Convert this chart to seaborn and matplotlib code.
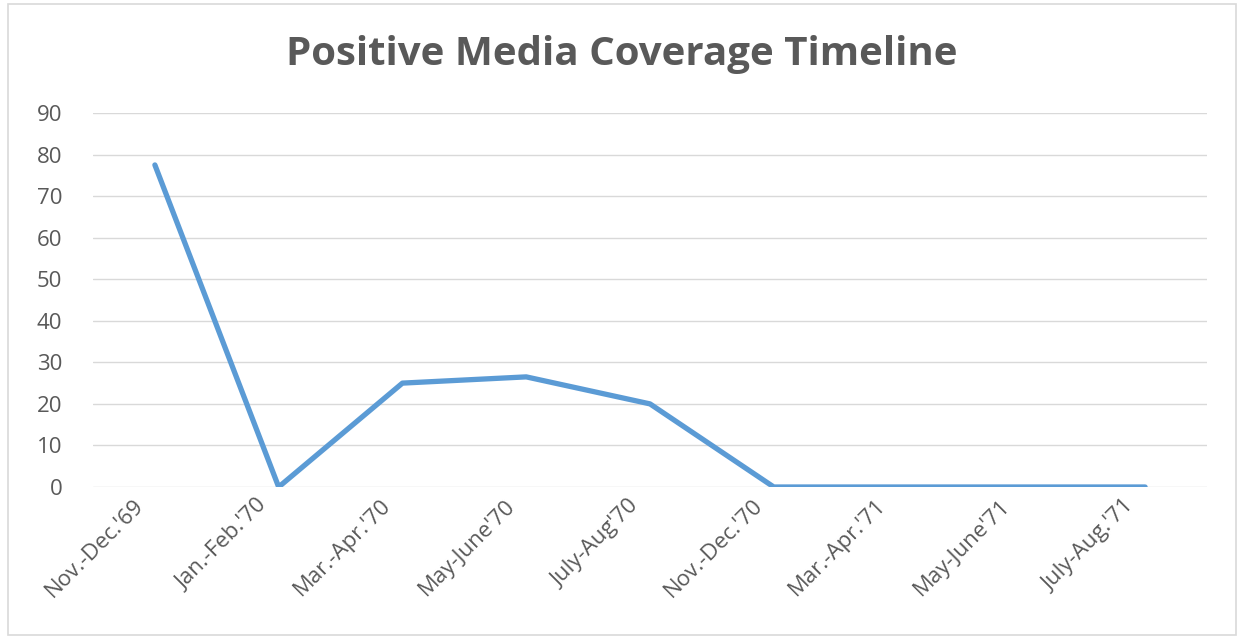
import matplotlib
matplotlib.use("Agg")
import matplotlib.pyplot as plt
import matplotlib.transforms as mtrans
import seaborn as sns
import pandas as pd
from matplotlib.patches import Rectangle

categories = ["Nov.-Dec.'69", "Jan.-Feb.'70", "Mar.-Apr.'70", "May-June'70", "July-Aug'70",
              "Nov.-Dec.'70", "Mar.-Apr.'71", "May-June'71", "July-Aug.'71"]
values = [77.5, 0, 25, 26.5, 20, 0, 0, 0, 0]
yticks = [0, 10, 20, 30, 40, 50, 60, 70, 80, 90]

sns.set_theme(style="white")
plt.rcParams['font.family'] = ['Open Sans', 'DejaVu Sans']

df = pd.DataFrame({"period": categories, "value": values, "pos": range(len(categories))})

fig = plt.figure(figsize=(12.44, 6.39), dpi=100)
ax = fig.add_axes([93/1244, 1-487/639, (1207-93)/1244, (487-113)/639])

sns.lineplot(data=df, x="pos", y="value", ax=ax, color="#5B9BD5", linewidth=3.8,
             solid_capstyle="round")

ax.set_xlim(-0.5, len(categories) - 0.5)
ax.set_ylim(0, 90)
ax.set_yticks(yticks)
ax.set_yticklabels([str(t) for t in yticks], fontsize=16, color="#595959")
ax.set_xticks(range(len(categories)))
ax.set_xticklabels(categories, rotation=45, ha="right", rotation_mode="anchor",
                   fontsize=16, color="#595959")
ax.tick_params(axis="both", length=0)
ax.tick_params(axis="y", pad=22)
ax.tick_params(axis="x", pad=6)
offset = mtrans.ScaledTranslation(-22/100, 0, fig.dpi_scale_trans)
for lbl in ax.get_xticklabels():
    lbl.set_transform(lbl.get_transform() + offset)
ax.grid(axis="y", color="#D9D9D9", linewidth=1)
ax.set_axisbelow(True)
for s in ax.spines.values():
    s.set_visible(False)
ax.set_xlabel("")
ax.set_ylabel("")

fig.text(0.5, 1-55/639, "Positive Media Coverage Timeline", ha="center", va="center",
         fontsize=29, fontweight="bold", color="#595959")

fig.patches.append(Rectangle((8/1244, 4/639), 1-16/1244, 1-8/639, transform=fig.transFigure,
                             fill=False, edgecolor="#D9D9D9", linewidth=1.2))

fig.savefig("out.png", dpi=100)
